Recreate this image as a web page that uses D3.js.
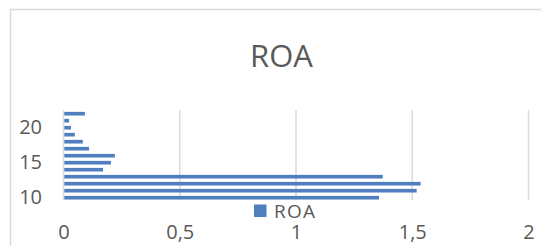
<!DOCTYPE html>
<html>
<head>
<meta charset="utf-8">
<script src="https://cdn.jsdelivr.net/npm/d3@7"></script>
<style>
  body { margin: 0; background: #fff; }
  svg { display: block; font-family: "Open Sans", sans-serif; }
</style>
</head>
<body>
<div id="chart"></div>
<script>
// data
const categories = [10, 11, 12, 13, 14, 15, 16, 17, 18, 19, 20, 21, 22];
const roa = [1.357, 1.519, 1.536, 1.373, 0.170, 0.204, 0.221, 0.110, 0.083, 0.049, 0.032, 0.024, 0.092];
const yLabels = [10, 15, 20];
const xTicks = [0, 0.5, 1, 1.5, 2];
const seriesName = "ROA";

let width = 541, height = 246;
let plot = { left: 63.5, right: 528.5, top: 110.2, bottom: 201.2 };

let svg = d3.select("#chart").append("svg")
  .attr("width", width)
  .attr("height", height);

// chart frame
svg.append("rect")
  .attr("x", 10.5).attr("y", 9.5)
  .attr("width", 560).attr("height", 260)
  .attr("fill", "#fff")
  .attr("stroke", "#d9d9d9")
  .attr("stroke-width", 1.5);

let x = d3.scaleLinear().domain([0, 2]).range([plot.left, plot.right]);
let y = d3.scaleBand().domain(categories).range([plot.bottom, plot.top]).paddingInner(0.48).paddingOuter(0.24);

// gridlines
svg.append("g").selectAll("line")
  .data(xTicks)
  .enter().append("line")
  .attr("x1", d => x(d)).attr("x2", d => x(d))
  .attr("y1", plot.top).attr("y2", plot.bottom - 1)
  .attr("stroke", "#d9d9d9")
  .attr("stroke-width", 1.5);

// bars
svg.append("g").selectAll("rect")
  .data(categories)
  .enter().append("rect")
  .attr("x", x(0) + 0.8)
  .attr("y", d => y(d))
  .attr("height", y.bandwidth())
  .attr("width", (d, i) => x(roa[i]) - x(0) - 0.8)
  .attr("fill", "#4f7fbf");

// x axis labels
let xAxis = d3.axisBottom(x)
  .tickValues(xTicks)
  .tickSize(0)
  .tickPadding(0)
  .tickFormat(d => String(d).replace(".", ","));
let gx = svg.append("g")
  .attr("transform", "translate(0,224.5)")
  .call(xAxis);
gx.select(".domain").remove();
gx.selectAll("text")
  .attr("dy", "0.71em")
  .attr("y", 0)
  .attr("font-size", 20)
  .attr("font-family", "Open Sans, sans-serif")
  .attr("fill", "#595959");

// y axis labels
let yAxis = d3.axisLeft(y)
  .tickValues(yLabels)
  .tickSize(0)
  .tickPadding(0);
let gy = svg.append("g")
  .attr("transform", "translate(42,0)")
  .call(yAxis);
gy.select(".domain").remove();
gy.selectAll("text")
  .attr("font-size", 20)
  .attr("font-family", "Open Sans, sans-serif")
  .attr("fill", "#595959");

// title
svg.append("text")
  .attr("x", 281.5).attr("y", 66.5)
  .attr("text-anchor", "middle")
  .attr("font-size", 31)
  .attr("fill", "#595959")
  .text(seriesName);

// legend
let legend = svg.append("g").attr("transform", "translate(254,204.5)");
legend.append("rect")
  .attr("width", 12.5).attr("height", 12.5)
  .attr("fill", "#4f7fbf");
legend.append("text")
  .attr("x", 20).attr("y", 13.3)
  .attr("font-size", 19)
  .attr("textLength", 41)
  .attr("fill", "#595959")
  .text(seriesName);
</script>
</body>
</html>
